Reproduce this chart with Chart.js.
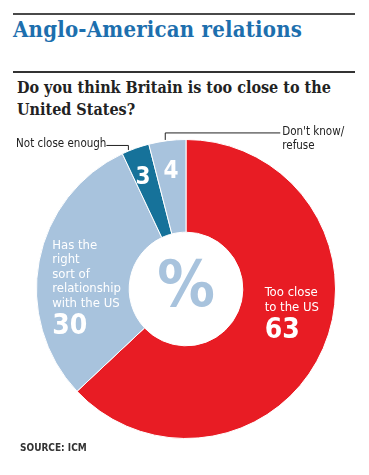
<!DOCTYPE html>
<html><head><meta charset="utf-8">
<script src="https://cdn.jsdelivr.net/npm/chart.js@4/dist/chart.umd.min.js"></script>
<style>
html,body{margin:0;padding:0;background:#fff;width:369px;height:475px;overflow:hidden;}
#wrap{position:relative;width:369px;height:475px;}
canvas{position:absolute;left:0;top:0;}
.rule{position:absolute;left:13px;width:342px;background:#4a4a4a;}
#title{position:absolute;left:13px;top:16px;font-family:'DejaVu Serif Condensed','DejaVu Serif',serif;font-weight:bold;font-size:22px;color:#1d6fae;white-space:nowrap;letter-spacing:0.2px;}
#q{position:absolute;left:17px;top:77px;font-family:'DejaVu Serif Condensed','DejaVu Serif',serif;font-weight:bold;font-size:16px;line-height:22px;color:#222;white-space:nowrap;}
#src{position:absolute;left:20px;top:442px;font-family:'Liberation Sans Narrow','DejaVu Sans Condensed',sans-serif;font-weight:bold;font-size:10px;color:#333;}
</style></head>
<body><div id="wrap">
<div class="rule" style="top:13px;height:2px;"></div>
<div id="title">Anglo-American relations</div>
<div class="rule" style="top:71px;height:1.5px;background:#333;"></div>
<div id="q">Do you think Britain is too close to the<br>United States?</div>
<canvas id="c" width="369" height="475"></canvas>
<div id="src">SOURCE: ICM</div>
</div>
<script>
const categories = ["Too close to the US", "Has the right sort of relationship with the US", "Not close enough", "Don't know/ refuse"];
const values = [63, 30, 3, 4];
const colors = ["#e81c24", "#a8c3dd", "#16729a", "#a8c3dd"];

const NARROW = "'Liberation Sans Narrow','DejaVu Sans Condensed',sans-serif";
// label placement: fraction along slice angle, fraction across ring
const labelSpec = [
  {t:0.455, f:0.56, lines:["Too close","to the US"], big:String(values[0])},
  {t:0.405, f:0.46, lines:["Has the","right","sort of","relationship","with the US"], big:String(values[1])},
  {t:0.37, f:0.67, lines:[], big:String(values[2])},
  {t:0.49, f:0.66, lines:[], big:String(values[3])}
];

const labelPlugin = {
  id:'labels',
  afterDatasetsDraw(chart){
    const ctx = chart.ctx;
    const arcs = chart.getDatasetMeta(0).data;
    ctx.save();
    // center %
    const a0 = arcs[0];
    ctx.fillStyle = "#a8c3dd";
    ctx.font = "bold 64px 'DejaVu Sans Condensed','DejaVu Sans',sans-serif";
    ctx.textAlign = "center"; ctx.textBaseline = "middle";
    ctx.fillText("%", a0.x, a0.y);
    arcs.forEach((arc, i) => {
      const s = labelSpec[i];
      const ang = arc.startAngle + s.t*(arc.endAngle - arc.startAngle);
      const r = arc.innerRadius + s.f*(arc.outerRadius - arc.innerRadius);
      const cx = arc.x + r*Math.cos(ang), cy = arc.y + r*Math.sin(ang);
      ctx.fillStyle = "#fff";
      if (s.lines.length) {
        ctx.font = "13px " + NARROW;
        let w = 0; s.lines.forEach(l => w = Math.max(w, ctx.measureText(l).width));
        const lh = 14.5, bigH = 26;
        const h = s.lines.length*lh + bigH;
        const x0 = cx - w/2; let y = cy - h/2;
        ctx.textAlign = "left"; ctx.textBaseline = "top";
        s.lines.forEach(l => { ctx.fillText(l, x0, y); y += lh; });
        ctx.font = "bold 28px " + NARROW;
        ctx.fillText(s.big, x0, y + 1);
      } else {
        ctx.font = "bold 24px " + NARROW;
        ctx.textAlign = "center"; ctx.textBaseline = "middle";
        ctx.fillText(s.big, cx, cy);
      }
    });
    // leader lines
    ctx.strokeStyle = "#222"; ctx.lineWidth = 1;
    ctx.fillStyle = "#222"; ctx.font = "11.5px " + NARROW;
    // Not close enough (slice 2)
    let a = arcs[2];
    let ang = a.startAngle + 0.25*(a.endAngle - a.startAngle);
    let px = a.x + (a.outerRadius+1)*Math.cos(ang), py = a.y + (a.outerRadius+1)*Math.sin(ang);
    ctx.beginPath(); ctx.moveTo(px, py); ctx.lineTo(px, py-4.5); ctx.lineTo(px-22, py-4.5); ctx.stroke();
    ctx.textAlign = "right"; ctx.textBaseline = "alphabetic";
    ctx.fillText(categories[2], px-22, py-2.5);
    // Don't know (slice 3)
    a = arcs[3];
    ang = a.startAngle + 0.45*(a.endAngle - a.startAngle);
    px = a.x + (a.outerRadius+1)*Math.cos(ang); py = a.y + (a.outerRadius+1)*Math.sin(ang);
    ctx.beginPath(); ctx.moveTo(px, py); ctx.lineTo(px, py-7); ctx.lineTo(px+115, py-7); ctx.stroke();
    ctx.textAlign = "left";
    ctx.fillText("Don't know/", px+117, py-4.5);
    ctx.fillText("refuse", px+117, py+9.5);
    ctx.restore();
  }
};

new Chart(document.getElementById('c'), {
  type:'doughnut',
  data:{labels:categories, datasets:[{data:values, backgroundColor:colors, borderColor:"#ffffff", borderWidth:1}]},
  options:{
    responsive:false, animation:false, cutout:'38%',
    layout:{padding:{left:36, right:33, top:139, bottom:36}},
    plugins:{legend:{display:false}, tooltip:{enabled:false}}
  },
  plugins:[labelPlugin]
});
</script>
</body></html>
